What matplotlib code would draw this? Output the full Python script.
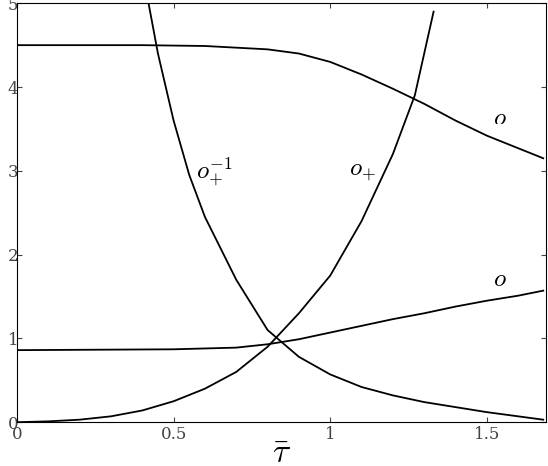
import matplotlib
matplotlib.use("Agg")
import matplotlib.pyplot as plt

plt.rcParams['mathtext.fontset'] = 'cm'
plt.rcParams['font.family'] = 'serif'
plt.rcParams['font.serif'] = ['DejaVu Serif']

op_x = [0, 0.1, 0.2, 0.3, 0.4, 0.5, 0.6, 0.7, 0.8, 0.9, 1.0, 1.1, 1.2, 1.27, 1.33]
op_y = [0, 0.01, 0.03, 0.07, 0.14, 0.25, 0.4, 0.6, 0.9, 1.3, 1.75, 2.4, 3.2, 3.9, 4.9]
opi_x = [0.42, 0.45, 0.5, 0.55, 0.6, 0.7, 0.8, 0.9, 1.0, 1.1, 1.2, 1.3, 1.4, 1.5, 1.6, 1.68]
opi_y = [5, 4.4, 3.6, 2.95, 2.45, 1.7, 1.1, 0.78, 0.57, 0.42, 0.32, 0.24, 0.18, 0.12, 0.07, 0.03]
om_x = [0, 0.4, 0.6, 0.8, 0.9, 1.0, 1.1, 1.2, 1.3, 1.4, 1.5, 1.6, 1.68]
om_y = [4.5, 4.5, 4.49, 4.45, 4.4, 4.3, 4.15, 3.98, 3.8, 3.6, 3.42, 3.27, 3.15]
o_x = [0, 0.5, 0.7, 0.8, 0.9, 1.0, 1.1, 1.2, 1.3, 1.4, 1.5, 1.6, 1.68]
o_y = [0.86, 0.87, 0.89, 0.93, 0.99, 1.07, 1.15, 1.23, 1.3, 1.38, 1.45, 1.51, 1.57]

fig = plt.figure(figsize=(5.48, 4.66), dpi=100)
ax = fig.add_axes([0.031, 0.094, 0.966, 0.899])
for xs, ys in [(op_x, op_y), (opi_x, opi_y), (om_x, om_y), (o_x, o_y)]:
    ax.plot(xs, ys, color='black', lw=1.3)
ax.set_xlim(0, 1.69)
ax.set_ylim(0, 5)
ax.set_xticks([0, 0.5, 1, 1.5])
ax.set_xticklabels(['0', '0.5', '1', '1.5'])
ax.set_yticks([0, 1, 2, 3, 4, 5])
ax.tick_params(direction='in', labelsize=12, colors='#444444', top=True, right=True, pad=3)
ax.tick_params(axis='y', pad=-1)
ax.text(1.52, 3.6, r'$o_{-}$', fontsize=18)
ax.text(1.06, 2.95, r'$o_{+}$', fontsize=18)
ax.text(0.57, 2.9, r'$o_{+}^{-1}$', fontsize=18)
ax.text(1.52, 1.62, r'$o$', fontsize=18)
ax.set_xlabel(r'$\bar{\tau}$', fontsize=24, labelpad=-4)
fig.savefig('out.png', dpi=100)
